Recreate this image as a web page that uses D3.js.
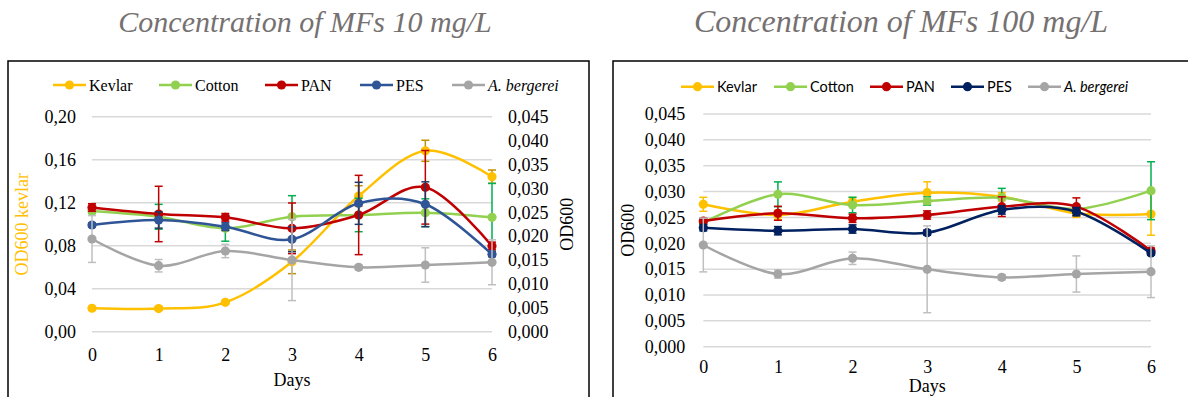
<!DOCTYPE html>
<html>
<head>
<meta charset="utf-8">
<script src="https://cdn.jsdelivr.net/npm/d3@7"></script>
<style>
  html, body { margin: 0; padding: 0; background: #fff; }
  svg { display: block; }
</style>
</head>
<body>
<svg id="chart" width="1188" height="397"></svg>
<script>
"use strict";

/* shared categories */
const DAYS = [0, 1, 2, 3, 4, 5, 6];
const SERIES = ["Kevlar", "Cotton", "PAN", "PES", "A. bergerei"];

/* panel 1: 10 mg/L (Kevlar on left axis, rest on right axis) */
const low_kevlar = [0.0218, 0.0215, 0.0273, 0.0650, 0.1262, 0.1683, 0.1442];
const low_kevlar_err = [0.0015, 0.0015, 0.0015, 0.0110, 0.0096, 0.0098, 0.0062];
const low_cotton = [0.02526, 0.02405, 0.02164, 0.02407, 0.02443, 0.02491, 0.02394];
const low_cotton_err = [0.0005, 0.0026, 0.0027, 0.0044, 0.0035, 0.0029, 0.0071];
const low_pan = [0.0260, 0.02464, 0.02394, 0.02164, 0.02443, 0.03022, 0.01794];
const low_pan_err = [0.0008, 0.0058, 0.0008, 0.0053, 0.0083, 0.0077, 0.0008];
const low_pes = [0.02233, 0.02338, 0.02198, 0.01934, 0.02687, 0.02667, 0.0162];
const low_pes_err = [0.0004, 0.0017, 0.0008, 0.0026, 0.0044, 0.0047, 0.0005];
const low_bergerei = [0.0194, 0.01381, 0.01689, 0.01501, 0.01348, 0.01396, 0.01453];
const low_bergerei_err = [0.0049, 0.0013, 0.0014, 0.0085, 0.0005, 0.0036, 0.0047];

/* panel 2: 100 mg/L */
const high_kevlar = [0.02754, 0.02547, 0.02804, 0.02978, 0.0290, 0.0258, 0.02566];
const high_kevlar_err = [0.00135, 0.0009, 0.0008, 0.0021, 0.0008, 0.0008, 0.0041];
const high_cotton = [0.0240, 0.02947, 0.0274, 0.02818, 0.02882, 0.02663, 0.03017];
const high_cotton_err = [0.0008, 0.0024, 0.0015, 0.0008, 0.0018, 0.0008, 0.0056];
const high_pan = [0.0243, 0.0258, 0.02483, 0.02547, 0.02708, 0.02708, 0.01857];
const high_pan_err = [0.0005, 0.00135, 0.0008, 0.0008, 0.0019, 0.0017, 0.0005];
const high_pes = [0.0230, 0.02243, 0.02276, 0.02205, 0.02644, 0.02611, 0.0181];
const high_pes_err = [0.0006, 0.0008, 0.0008, 0.0005, 0.0008, 0.0008, 0.0004];
const high_bergerei = [0.01967, 0.01406, 0.0171, 0.01497, 0.01342, 0.01406, 0.0145];
const high_bergerei_err = [0.0052, 0.0008, 0.0012, 0.0084, 0.0005, 0.0035, 0.005];

const LEFT_TICKS = [0, 0.04, 0.08, 0.12, 0.16, 0.20];
const OD_TICKS = [0, 0.005, 0.01, 0.015, 0.02, 0.025, 0.03, 0.035, 0.04, 0.045];

const LINE_COLORS = ["#FFC000", "#92D050", "#C00000", "#2F5597", "#A5A5A5"];
const ERR_COLORS = ["#BF9000", "#00B050", "#C00000", "#203864", "#BFBFBF"];

const SERIF = "'Liberation Serif', 'Times New Roman', Times, 'DejaVu Serif', serif";
const SANS = "Lato, 'Liberation Sans', sans-serif";

const locale = d3.formatLocale({ decimal: ",", thousands: ".", grouping: [3], currency: ["", ""] });
const fmt2 = locale.format(".2f");
const fmt3 = locale.format(".3f");

const svg = d3.select("#chart");

function drawPanel(p) {
  const g = svg.append("g");

  /* frame (bottom/right run off the picture) */
  g.append("rect")
    .attr("x", p.box[0]).attr("y", p.box[1])
    .attr("width", p.box[2]).attr("height", p.box[3])
    .attr("fill", "none").attr("stroke", "#000").attr("stroke-width", 1.5);

  g.append("text")
    .attr("font-family", SERIF)
    .attr("x", p.titleX).attr("y", 32)
    .attr("text-anchor", "middle")
    .attr("font-size", p.titleSize).attr("font-style", "italic")
    .attr("fill", "#767171")
    .text(p.title);

  const x = p.x;
  const [gx0, gx1] = x.range();

  /* gridlines */
  g.append("g").selectAll("line")
    .data(p.gridTicks)
    .join("line")
    .attr("x1", gx0).attr("x2", gx1)
    .attr("y1", (d) => p.gridScale(d)).attr("y2", (d) => p.gridScale(d))
    .attr("stroke", "#D9D9D9").attr("stroke-width", 1.5);

  /* axes */
  const styleAxis = (sel) => {
    sel.attr("font-family", SERIF).attr("font-size", 18);
    sel.select(".domain").remove();
    sel.selectAll("line").remove();
    sel.selectAll("text").attr("fill", "#000");
  };

  g.append("g")
    .attr("transform", `translate(0,${p.gridScale(0)})`)
    .call(d3.axisBottom(x).tickValues(DAYS).tickFormat(d3.format("d")).tickSize(0).tickPadding(p.xPad))
    .call(styleAxis);

  g.append("g")
    .attr("transform", `translate(${gx0},0)`)
    .call(d3.axisLeft(p.yLeft).tickValues(p.leftTicks).tickFormat(p.leftFmt).tickSize(0).tickPadding(p.yPad))
    .call(styleAxis);

  if (p.yRight) {
    g.append("g")
      .attr("transform", `translate(${gx1},0)`)
      .call(d3.axisRight(p.yRight).tickValues(OD_TICKS).tickFormat(fmt3).tickSize(0).tickPadding(16))
      .call(styleAxis);
  }

  /* axis titles */
  g.append("text")
    .attr("font-family", SERIF).attr("font-size", 18)
    .attr("text-anchor", "middle")
    .attr("x", (gx0 + gx1) / 2).attr("y", p.daysY)
    .text("Days");

  const midY = (p.yLeft.range()[0] + p.yLeft.range()[1]) / 2;
  g.append("text")
    .attr("font-family", SERIF).attr("font-size", 18)
    .attr("text-anchor", "middle")
    .attr("fill", p.leftTitleColor)
    .attr("transform", `translate(${p.leftTitleX},${midY}) rotate(-90)`)
    .text(p.leftTitle);

  if (p.yRight) {
    g.append("text")
      .attr("font-family", SERIF).attr("font-size", 18)
      .attr("text-anchor", "middle")
      .attr("transform", `translate(${p.rightTitleX},${midY}) rotate(-90)`)
      .text("OD600");
  }

  /* series */
  const curve = d3.curveCardinal.tension(0);
  p.values.forEach((vals, i) => {
    const y = p.scales[i];
    const color = p.lineColors[i];
    const pts = DAYS.map((d, k) => ({ d, v: vals[k], e: p.errors[i][k] }));
    const s = g.append("g");

    s.append("path")
      .datum(pts)
      .attr("fill", "none")
      .attr("stroke", color)
      .attr("stroke-width", 2.5)
      .attr("d", d3.line().x((q) => x(q.d)).y((q) => y(q.v)).curve(curve));

    const eb = s.append("g")
      .attr("stroke", p.errColors[i])
      .attr("stroke-width", 1.5)
      .selectAll("g")
      .data(pts)
      .join("g");
    eb.append("line")
      .attr("x1", (q) => x(q.d)).attr("x2", (q) => x(q.d))
      .attr("y1", (q) => y(q.v - q.e)).attr("y2", (q) => y(q.v + q.e));
    eb.append("line")
      .attr("x1", (q) => x(q.d) - 4).attr("x2", (q) => x(q.d) + 4)
      .attr("y1", (q) => y(q.v + q.e)).attr("y2", (q) => y(q.v + q.e));
    eb.append("line")
      .attr("x1", (q) => x(q.d) - 4).attr("x2", (q) => x(q.d) + 4)
      .attr("y1", (q) => y(q.v - q.e)).attr("y2", (q) => y(q.v - q.e));

    s.selectAll("circle")
      .data(pts)
      .join("circle")
      .attr("cx", (q) => x(q.d)).attr("cy", (q) => y(q.v))
      .attr("r", 4.6)
      .attr("fill", color);
  });

  /* legend */
  const lg = g.append("g").attr("transform", `translate(0,${p.legendY})`);
  SERIES.forEach((name, i) => {
    const lx = p.legendX[i];
    lg.append("line")
      .attr("x1", lx).attr("x2", lx + 33)
      .attr("stroke", p.lineColors[i]).attr("stroke-width", 2.5);
    lg.append("circle")
      .attr("cx", lx + 16.5).attr("r", 4.6).attr("fill", p.lineColors[i]);
    lg.append("text")
      .attr("font-family", p.legendFont)
      .attr("font-size", p.legendSize)
      .attr("x", lx + 36).attr("dy", "0.35em")
      .attr("font-style", i === 4 ? "italic" : null)
      .text(name);
  });
}

/* panel 1 */
const x1 = d3.scaleLinear([0, 6], [92, 492]);
const yKev = d3.scaleLinear([0, 0.20], [331.7, 116.7]);
const yOd1 = d3.scaleLinear([0, 0.045], [331.7, 116.7]);

drawPanel({
  box: [8, 61, 581, 400],
  title: "Concentration of MFs 10 mg/L",
  titleX: 305,
  titleSize: 30,
  x: x1,
  yLeft: yKev,
  yRight: yOd1,
  gridScale: yKev,
  gridTicks: LEFT_TICKS,
  leftTicks: LEFT_TICKS,
  leftFmt: fmt2,
  xPad: 16.5,
  yPad: 16,
  daysY: 386,
  leftTitle: "OD600 kevlar",
  leftTitleColor: "#FFC000",
  leftTitleX: 28,
  rightTitleX: 573,
  values: [low_kevlar, low_cotton, low_pan, low_pes, low_bergerei],
  errors: [low_kevlar_err, low_cotton_err, low_pan_err, low_pes_err, low_bergerei_err],
  scales: [yKev, yOd1, yOd1, yOd1, yOd1],
  lineColors: LINE_COLORS,
  errColors: ERR_COLORS,
  legendY: 85,
  legendX: [53, 159, 265, 360, 452],
  legendFont: SERIF,
  legendSize: 16
});

/* panel 2 */
const x2 = d3.scaleLinear([0, 6], [703.3, 1151]);
const yOd2 = d3.scaleLinear([0, 0.045], [346.7, 114]);

drawPanel({
  box: [613, 61, 600, 400],
  title: "Concentration of MFs 100 mg/L",
  titleX: 901,
  titleSize: 32,
  x: x2,
  yLeft: yOd2,
  yRight: null,
  gridScale: yOd2,
  gridTicks: OD_TICKS,
  leftTicks: OD_TICKS,
  leftFmt: fmt3,
  xPad: 14,
  yPad: 18,
  daysY: 392,
  leftTitle: "OD600",
  leftTitleColor: "#000",
  leftTitleX: 634,
  values: [high_kevlar, high_cotton, high_pan, high_pes, high_bergerei],
  errors: [high_kevlar_err, high_cotton_err, high_pan_err, high_pes_err, high_bergerei_err],
  scales: [yOd2, yOd2, yOd2, yOd2, yOd2],
  lineColors: ["#FFC000", "#92D050", "#C00000", "#002060", "#A5A5A5"],
  errColors: ["#FFC000", "#00B050", "#C00000", "#002060", "#BFBFBF"],
  legendY: 86.7,
  legendX: [681, 774, 870, 951, 1028],
  legendFont: SANS,
  legendSize: 14.5
});
</script>
</body>
</html>
